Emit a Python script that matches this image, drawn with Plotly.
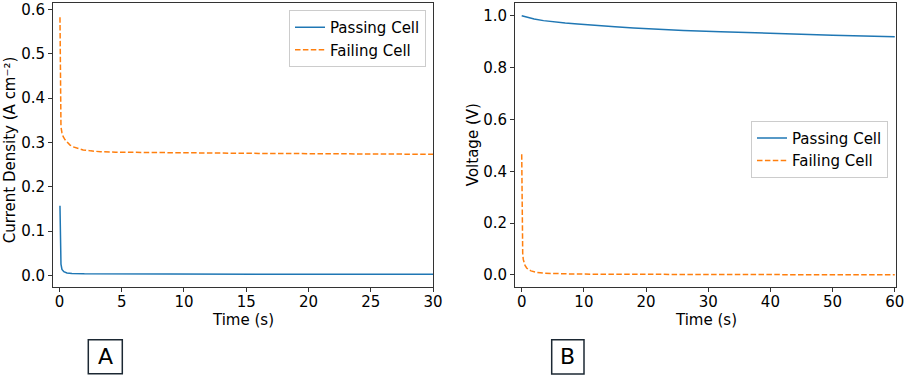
import plotly.graph_objects as go

# ---- Panel A: current density (A cm^-2) vs time (s)
a_pass_t = [0.04, 0.07, 0.12, 0.2, 0.35, 0.6, 1.0, 2.0, 5.0, 10.0, 20.0, 30.0]
a_pass_y = [0.157, 0.06, 0.025, 0.013, 0.008, 0.005, 0.004, 0.0032, 0.0028, 0.0025, 0.0023, 0.0022]

a_fail_t = [0.04, 0.06, 0.09, 0.12, 0.2, 0.3, 0.45, 0.6, 0.85, 1.1, 1.4, 1.9, 2.5, 3.3,
            4.5, 6.0, 8.0, 12.0, 16.0, 20.0, 25.0, 30.0]
a_fail_y = [0.583, 0.45, 0.37, 0.335, 0.322, 0.313, 0.306, 0.301, 0.294, 0.29, 0.287, 0.283,
            0.281, 0.279, 0.278, 0.2775, 0.277, 0.276, 0.2753, 0.2747, 0.274, 0.2733]

# ---- Panel B: voltage (V) vs time (s)
b_pass_t = [0, 1, 2, 3.5, 5, 7, 9, 12, 15, 18, 22, 26, 32, 38, 44, 50, 55, 60]
b_pass_y = [1.0, 0.993, 0.987, 0.981, 0.976, 0.972, 0.968, 0.962, 0.957, 0.953, 0.947,
            0.943, 0.938, 0.933, 0.929, 0.925, 0.922, 0.919]

b_fail_t = [0.0, 0.05, 0.1, 0.16, 0.25, 0.35, 0.53, 0.8, 1.07, 1.5, 2.4, 3.5, 5, 6.2, 8,
            12, 20, 30, 40, 50, 60]
b_fail_y = [0.466, 0.3, 0.16, 0.083, 0.06, 0.048, 0.037, 0.027, 0.021, 0.016, 0.010, 0.007,
            0.0055, 0.005, 0.004, 0.003, 0.002, 0.0015, 0.001, 0.001, 0.001]

a_yticks = [0.0, 0.1, 0.2, 0.3, 0.4, 0.5, 0.6]
a_xticks = [0, 5, 10, 15, 20, 25, 30]
b_yticks = [0.0, 0.2, 0.4, 0.6, 0.8, 1.0]
b_xticks = [0, 10, 20, 30, 40, 50, 60]

BLUE = "#1f77b4"
ORANGE = "#ff7f0e"
DASH = "5.5px,2.4px"
FONT = "DejaVu Sans"
FS = 15

fig = go.Figure()
fig.add_trace(go.Scatter(x=a_pass_t, y=a_pass_y, mode="lines", name="Passing Cell",
                         line=dict(color=BLUE, width=1.5), xaxis="x", yaxis="y", legend="legend"))
fig.add_trace(go.Scatter(x=a_fail_t, y=a_fail_y, mode="lines", name="Failing Cell",
                         line=dict(color=ORANGE, width=1.5, dash=DASH), xaxis="x", yaxis="y", legend="legend"))
fig.add_trace(go.Scatter(x=b_pass_t, y=b_pass_y, mode="lines", name="Passing Cell",
                         line=dict(color=BLUE, width=1.5), xaxis="x2", yaxis="y2", legend="legend2"))
fig.add_trace(go.Scatter(x=b_fail_t, y=b_fail_y, mode="lines", name="Failing Cell",
                         line=dict(color=ORANGE, width=1.5, dash=DASH), xaxis="x2", yaxis="y2", legend="legend2"))

W, H = 906, 376
L, R, T, B = 53, 10, 3, 89.3
PW = W - L - R
PH = H - T - B


def px(x):
    return (x - L) / PW


def py(y):
    return (H - B - y) / PH


axis_common = dict(showgrid=False, zeroline=False, showline=True, mirror=True,
                   linecolor="#333333", linewidth=1, ticks="outside", ticklen=4,
                   tickwidth=1, tickcolor="#333333",
                   tickfont=dict(family=FONT, size=FS, color="black"), automargin=False)

fig.update_layout(
    width=W, height=H,
    margin=dict(l=L, r=R, t=T, b=B),
    paper_bgcolor="white", plot_bgcolor="white",
    font=dict(family=FONT, size=FS, color="black"),
    xaxis=dict(domain=[0, px(433)], range=[-0.52, 30.0], tickvals=a_xticks,
               anchor="y", ticklabelstandoff=-3, **axis_common),
    yaxis=dict(domain=[0, 1], range=[-0.0265, 0.615], tickvals=a_yticks,
               tickformat=".1f", anchor="x", **axis_common),
    xaxis2=dict(domain=[px(515), px(896)], range=[-1.08, 60.2], tickvals=b_xticks,
                anchor="y2", ticklabelstandoff=-3, **axis_common),
    yaxis2=dict(domain=[0, 1], range=[-0.0463, 1.049], tickvals=b_yticks,
                tickformat=".1f", anchor="x2", **axis_common),
    legend=dict(x=px(426), y=py(10), xanchor="right", yanchor="top",
                bgcolor="rgba(255,255,255,0.8)", bordercolor="#cccccc", borderwidth=1,
                font=dict(family=FONT, size=FS), itemwidth=30, tracegroupgap=0),
    legend2=dict(x=px(888), y=py(120.7), xanchor="right", yanchor="top",
                 bgcolor="rgba(255,255,255,0.8)", bordercolor="#cccccc", borderwidth=1,
                 font=dict(family=FONT, size=FS), itemwidth=30, tracegroupgap=0),
    showlegend=True,
)

annots = [
    dict(text="Time (s)", x=px(243), y=py(320), xref="paper", yref="paper",
         showarrow=False, font=dict(family=FONT, size=FS), xanchor="center", yanchor="middle"),
    dict(text="Time (s)", x=px(705.5), y=py(320), xref="paper", yref="paper",
         showarrow=False, font=dict(family=FONT, size=FS), xanchor="center", yanchor="middle"),
    dict(text="Current Density (A cm⁻²)", x=px(10), y=py(150), xref="paper", yref="paper",
         showarrow=False, textangle=-90, font=dict(family=FONT, size=FS),
         xanchor="center", yanchor="middle"),
    dict(text="Voltage (V)", x=px(473), y=py(145), xref="paper", yref="paper",
         showarrow=False, textangle=-90, font=dict(family=FONT, size=FS),
         xanchor="center", yanchor="middle"),
    dict(text="A", x=px(105.3), y=py(356.5), xref="paper", yref="paper",
         showarrow=False, font=dict(family=FONT, size=22), xanchor="center", yanchor="middle"),
    dict(text="B", x=px(567.8), y=py(356.5), xref="paper", yref="paper",
         showarrow=False, font=dict(family=FONT, size=22), xanchor="center", yanchor="middle"),
]
fig.update_layout(annotations=annots)

shapes = [
    dict(type="rect", xref="paper", yref="paper", x0=px(88.3), x1=px(122.3),
         y0=py(373.3), y1=py(339.3), line=dict(color="#1c2833", width=1.5)),
    dict(type="rect", xref="paper", yref="paper", x0=px(551.7), x1=px(584),
         y0=py(373.5), y1=py(339.5), line=dict(color="#1c2833", width=1.5)),
]
fig.update_layout(shapes=shapes)

fig.write_html("out.html", config={"displayModeBar": False},
               post_script="document.body.style.margin='0';")
